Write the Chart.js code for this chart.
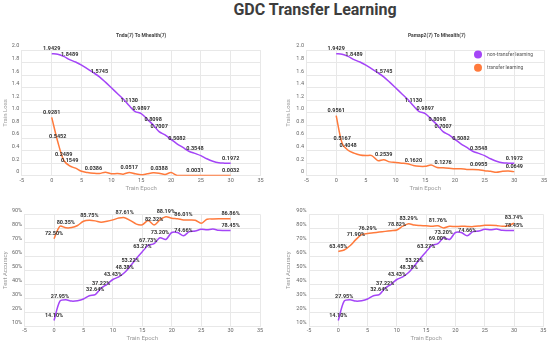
<!DOCTYPE html>
<html>
<head>
<meta charset="utf-8">
<script src="https://cdn.jsdelivr.net/npm/chart.js@4.4.0/dist/chart.umd.min.js"></script>
<style>
html, body { margin: 0; padding: 0; width: 550px; height: 346px; overflow: hidden; background: #fff; }
#mainTitle { position: absolute; left: 0; top: 0; width: 630px; text-align: center; font: bold 16px Roboto, sans-serif; line-height: 19px; color: #3d3d3d; }
canvas { position: absolute; }
</style>
</head>
<body>
<div id="mainTitle">GDC Transfer Learning</div>
<canvas id="lossTnda" width="268" height="166" style="left:0px;top:28px"></canvas>
<canvas id="lossPamap" width="267" height="166" style="left:283px;top:28px"></canvas>
<canvas id="accTnda" width="268" height="146" style="left:0px;top:200px"></canvas>
<canvas id="accPamap" width="267" height="146" style="left:283px;top:200px"></canvas>
<script>
var epochs = [0, 1, 2, 3, 4, 5, 6, 7, 8, 9, 10, 11, 12, 13, 14, 15, 16, 17, 18, 19, 20, 21, 22, 23, 24, 25, 26, 27, 28, 29, 30];

// train loss
var lossNonTransfer = [1.9429, 1.935, 1.90, 1.8489, 1.81, 1.76, 1.70, 1.64, 1.5745, 1.49, 1.40, 1.31, 1.22, 1.1130, 1.02, 0.9897,
    0.90, 0.8098, 0.7007, 0.65, 0.58, 0.5082, 0.45, 0.39, 0.3548, 0.32, 0.27, 0.23, 0.205, 0.20, 0.1972];
var lossTransferTnda = [0.9281, 0.5452, 0.2489, 0.1549, 0.12, 0.07, 0.05, 0.0386, 0.035, 0.055, 0.03, 0.035, 0.025, 0.0517, 0.03, 0.015,
    0.03, 0.045, 0.0388, 0.02, 0.05, 0.005, 0.004, 0.003, 0.0031, 0.003, 0.004, 0.003, 0.003, 0.003, 0.0032];
var lossTransferPamap = [0.9561, 0.5167, 0.4048, 0.36, 0.33, 0.32, 0.32, 0.24, 0.2539, 0.22, 0.21, 0.20, 0.19, 0.1620, 0.15, 0.15,
    0.17, 0.13, 0.1276, 0.12, 0.11, 0.11, 0.10, 0.10, 0.0955, 0.08, 0.07, 0.055, 0.07, 0.075, 0.0649];

// test accuracy (%)
var accNonTransfer = [14.10, 27.95, 29.0, 28.0, 28.3, 29.5, 31.8, 32.64, 37.22, 40.0, 43.43, 45.3, 48.38, 53.22, 58.5, 63.27,
    67.73, 69.00, 73.20, 72.0, 77.0, 77.0, 74.66, 77.6, 78.0, 79.3, 78.9, 79.5, 78.6, 78.5, 78.45];
var accTransferTnda = [72.50, 81.5, 80.35, 80.5, 82.0, 85.0, 85.75, 85.3, 84.3, 85.0, 86.0, 87.3, 87.61, 85.5, 83.0, 82.6,
    85.5, 82.32, 86.0, 88.19, 87.2, 86.8, 86.01, 86.0, 85.8, 83.6, 86.5, 86.7, 86.8, 86.8, 86.86];
var accTransferPamap = [63.45, 64.5, 67.5, 71.90, 75.5, 76.29, 76.8, 77.3, 77.8, 78.3, 78.82, 81.5, 83.29, 82.3, 82.0, 81.8,
    81.5, 81.76, 80.3, 81.5, 81.2, 81.5, 81.3, 81.2, 81.6, 82.2, 82.2, 82.0, 81.4, 81.8, 83.74];

// which epochs carry a value label
var lossNonTransferLabels = [0, 3, 8, 13, 15, 17, 18, 21, 24, 30];
var lossTndaLabels = [0, 1, 2, 3, 7, 13, 18, 24, 30];
var lossPamapLabels = [0, 1, 2, 8, 13, 18, 24, 30];
var accNonTransferLabelsTnda = [0, 1, 7, 8, 10, 12, 13, 15, 16, 18, 22, 30];
var accNonTransferLabelsPamap = [0, 1, 7, 8, 10, 12, 13, 15, 17, 18, 22, 30];
var accTndaLabels = [0, 2, 6, 12, 17, 19, 22, 30];
var accPamapLabels = [0, 3, 5, 10, 12, 17, 30];

var seriesNames = ["non-transfer learning", "transfer learning"];
var purple = "#a445f7";
var orange = "#ff7a3c";

Chart.defaults.font.family = "Roboto";
Chart.defaults.color = "#666";

// value labels above the points
var pointLabels = {
    id: "pointLabels",
    afterDatasetsDraw: function(chart) {
        var ctx = chart.ctx;
        ctx.save();
        ctx.font = "bold 5.5px Roboto";
        ctx.fillStyle = "#333";
        ctx.textAlign = "center";
        ctx.textBaseline = "middle";
        chart.data.datasets.forEach(function(ds, i) {
            var meta = chart.getDatasetMeta(i);
            ds.labelAt.forEach(function(idx) {
                var pt = meta.data[idx];
                ctx.fillText(ds.fmt(ds.data[idx]), pt.x, pt.y - 5);
            });
        });
        ctx.restore();
    }
};

// legend drawn inside the plot, top right
var cornerLegend = {
    id: "cornerLegend",
    afterDraw: function(chart, args, opts) {
        if (!opts.show) return;
        var ctx = chart.ctx;
        var area = chart.chartArea;
        ctx.save();
        ctx.font = "5px Roboto";
        ctx.textAlign = "left";
        ctx.textBaseline = "middle";
        chart.data.datasets.forEach(function(ds, i) {
            var cx = area.right - 66;
            var cy = area.top + 4.3 + i * 13.3;
            ctx.beginPath();
            ctx.arc(cx, cy, 4, 0, Math.PI * 2);
            ctx.fillStyle = ds.borderColor;
            ctx.fill();
            ctx.fillStyle = "#555";
            ctx.fillText(ds.label, cx + 9, cy);
        });
        ctx.restore();
    }
};

// nudge the panel title sideways
var titleShift = {
    id: "titleShift",
    afterLayout: function(chart, args, opts) {
        if (!chart.titleBlock || !opts.dx) return;
        chart.titleBlock.left = chart.chartArea.left + opts.dx;
        chart.titleBlock.right = chart.chartArea.right + opts.dx;
    }
};

function lossFmt(v) { return v.toFixed(4); }
function accFmt(v) { return v.toFixed(2) + "%"; }

function makeChart(id, c) {
    var grid = { color: "#e8e8e8", drawTicks: false };
    return new Chart(document.getElementById(id), {
        type: "line",
        data: {
            labels: epochs,
            datasets: [
                {
                    label: seriesNames[0],
                    data: c.purpleData,
                    labelAt: c.purpleLabels,
                    fmt: c.fmt,
                    borderColor: purple,
                    backgroundColor: purple,
                    borderWidth: 1.5,
                    pointRadius: 0,
                    tension: 0.3
                },
                {
                    label: seriesNames[1],
                    data: c.orangeData,
                    labelAt: c.orangeLabels,
                    fmt: c.fmt,
                    borderColor: orange,
                    backgroundColor: orange,
                    borderWidth: 1.5,
                    pointRadius: 0,
                    tension: 0.3
                }
            ]
        },
        options: {
            responsive: false,
            animation: false,
            events: [],
            layout: { padding: c.padding },
            plugins: {
                legend: { display: false },
                tooltip: { enabled: false },
                title: {
                    display: !!c.title,
                    text: c.title,
                    fullSize: false,
                    color: "#444",
                    font: { size: 5, weight: "bold" },
                    padding: { top: 4.7, bottom: 11.4 }
                },
                cornerLegend: { show: !!c.legend },
                titleShift: { dx: c.titleDx || 0 }
            },
            scales: {
                x: {
                    type: "linear",
                    min: -5,
                    max: 35,
                    grid: grid,
                    border: { color: "#e8e8e8" },
                    ticks: { stepSize: 5, padding: 1.5, font: { size: 5.5 }, autoSkip: false, maxRotation: 0 },
                    title: { display: true, text: "Train Epoch", color: "#999", font: { size: 6 }, padding: { top: 0, bottom: c.xTitlePad } },
                    afterFit: function(s) { s.height = c.xHeight; }
                },
                y: {
                    min: c.yMin,
                    max: c.yMax,
                    grid: grid,
                    border: { color: "#e8e8e8" },
                    ticks: {
                        stepSize: c.yStep,
                        padding: 2.5,
                        labelOffset: -4,
                        font: { size: 5.5 },
                        autoSkip: false,
                        callback: c.tickFmt
                    },
                    title: { display: true, text: c.yTitle, color: "#999", font: { size: 6 }, padding: { top: 2.2, bottom: 0 } },
                    afterFit: function(s) { s.width = c.yWidth; }
                }
            }
        },
        plugins: [pointLabels, cornerLegend, titleShift]
    });
}

function lossTick(v) { return v === 0 ? "0" : v.toFixed(1); }
function accTick(v) { return v + "%"; }

makeChart("lossTnda", {
    title: "Tnda(7) To Mhealth(7)",
    purpleData: lossNonTransfer, purpleLabels: lossNonTransferLabels,
    orangeData: lossTransferTnda, orangeLabels: lossTndaLabels,
    fmt: lossFmt, tickFmt: lossTick, yTitle: "Train Loss",
    yMin: 0, yMax: 2, yStep: 0.2,
    padding: { left: 0, right: 7.5, top: 0, bottom: 0 },
    yWidth: 21.9, xHeight: 18.3, xTitlePad: 1.7
});

makeChart("lossPamap", {
    title: "Pamap2(7) To Mhealth(7)", titleDx: 11.5, legend: true,
    purpleData: lossNonTransfer, purpleLabels: lossNonTransferLabels,
    orangeData: lossTransferPamap, orangeLabels: lossPamapLabels,
    fmt: lossFmt, tickFmt: lossTick, yTitle: "Train Loss",
    yMin: 0, yMax: 2, yStep: 0.2,
    padding: { left: 0, right: 6, top: 0, bottom: 0 },
    yWidth: 23.5, xHeight: 18.3, xTitlePad: 1.7
});

makeChart("accTnda", {
    purpleData: accNonTransfer, purpleLabels: accNonTransferLabelsTnda,
    orangeData: accTransferTnda, orangeLabels: accTndaLabels,
    fmt: accFmt, tickFmt: accTick, yTitle: "Test Accuracy",
    yMin: 10, yMax: 90, yStep: 10,
    padding: { left: 0, right: 8, top: 14.3, bottom: 0 },
    yWidth: 24.6, xHeight: 19.7, xTitlePad: 3.7
});

makeChart("accPamap", {
    purpleData: accNonTransfer, purpleLabels: accNonTransferLabelsPamap,
    orangeData: accTransferPamap, orangeLabels: accPamapLabels,
    fmt: accFmt, tickFmt: accTick, yTitle: "Test Accuracy",
    yMin: 10, yMax: 90, yStep: 10,
    padding: { left: 0, right: 6.7, top: 14.3, bottom: 0 },
    yWidth: 26, xHeight: 19.7, xTitlePad: 3.7
});
</script>
</body>
</html>
